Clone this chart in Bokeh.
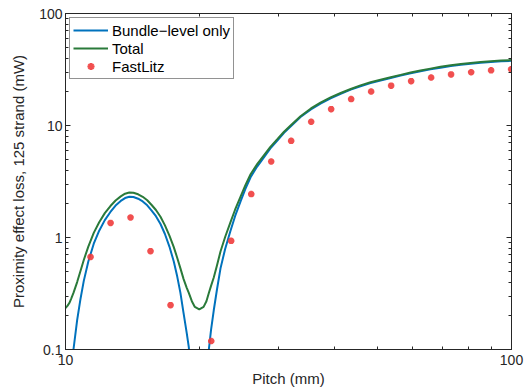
from bokeh.plotting import figure
from bokeh.models import (Range1d, FixedTicker, LogAxis, CustomJSTickFormatter,
                          Legend, LegendItem)
from bokeh.embed import file_html
from bokeh.resources import INLINE

# ---- data ----
pitch_bundle = [10.0, 10.1, 10.2, 10.3, 10.42, 10.62, 10.8, 10.99, 11.25, 11.57,
                11.9, 12.25, 12.61, 12.95, 13.3, 13.6, 13.9, 14.2, 14.55, 14.9,
                15.25, 15.6, 15.95, 16.33, 16.7, 17.1, 17.49, 17.8, 18.1, 18.4,
                18.7, 18.9, 19.2, 19.5, 19.95, 20.4, 20.7, 20.96, 21.2, 21.5,
                21.85, 22.26, 22.8, 23.44, 24.0, 24.69, 25.3, 26.0, 26.9, 27.85,
                28.8, 29.85, 30.9, 31.96, 33.65, 35.5, 37.3, 39.3, 41.4, 43.6,
                45.85, 48.3, 50.85, 53.6, 56.4, 59.4, 62.5, 65.8, 69.3, 73.1,
                77.0, 81.0, 85.3, 89.9, 94.8, 100.0]
loss_bundle = [0.007, 0.02, 0.038, 0.062, 0.10, 0.183, 0.28, 0.41, 0.61, 0.88,
               1.15, 1.43, 1.69, 1.93, 2.12, 2.25, 2.31, 2.30, 2.22, 2.10,
               1.94, 1.74, 1.55, 1.32, 1.08, 0.83, 0.61, 0.45, 0.32, 0.21,
               0.14, 0.105, 0.05, 0.015, 0.001, 0.015, 0.045, 0.10, 0.15, 0.224,
               0.34, 0.53, 0.79, 1.15, 1.55, 2.1, 2.7, 3.45, 4.3, 5.2,
               6.25, 7.35, 8.6, 9.8, 11.9, 13.9, 15.7, 17.5, 19.2, 20.9,
               22.4, 23.9, 25.2, 26.6, 27.9, 29.2, 30.5, 31.7, 32.8, 33.9,
               34.8, 35.6, 36.3, 36.9, 37.4, 37.8]

pitch_total = [10.0, 10.1, 10.2, 10.3, 10.42, 10.62, 10.8, 10.99, 11.25, 11.57,
               11.9, 12.25, 12.61, 12.95, 13.3, 13.6, 13.9, 14.2, 14.55, 14.9,
               15.25, 15.6, 15.95, 16.33, 16.7, 17.1, 17.49, 17.8, 18.1, 18.4,
               18.7, 18.9, 19.2, 19.5, 19.95, 20.4, 20.7, 20.96, 21.2, 21.5,
               21.85, 22.26, 22.8, 23.44, 24.0, 24.69, 25.3, 26.0, 26.9, 27.85,
               28.8, 29.85, 30.9, 31.96, 33.65, 35.5, 37.3, 39.3, 41.4, 43.6,
               45.85, 48.3, 50.85, 53.6, 56.4, 59.4, 62.5, 65.8, 69.3, 73.1,
               77.0, 81.0, 85.3, 89.9, 94.8, 100.0]
loss_total = [0.235, 0.245, 0.26, 0.285, 0.32, 0.40, 0.50, 0.63, 0.83, 1.10,
              1.37, 1.65, 1.91, 2.14, 2.33, 2.46, 2.52, 2.51, 2.43, 2.31,
              2.15, 1.95, 1.76, 1.53, 1.29, 1.04, 0.82, 0.66, 0.53, 0.425,
              0.355, 0.32, 0.27, 0.24, 0.228, 0.24, 0.27, 0.32, 0.37, 0.44,
              0.56, 0.75, 1.01, 1.37, 1.77, 2.32, 2.92, 3.67, 4.52, 5.42,
              6.45, 7.55, 8.8, 10.0, 12.1, 14.2, 16.0, 17.8, 19.5, 21.2,
              22.8, 24.3, 25.6, 27.0, 28.3, 29.7, 31.0, 32.2, 33.4, 34.5,
              35.4, 36.2, 36.9, 37.5, 38.0, 38.4]

pitch_fastlitz = [11.38, 12.62, 13.99, 15.51, 17.20, 21.22, 23.52, 26.09, 28.92,
                  32.06, 35.55, 39.41, 43.70, 48.45, 53.72, 59.56, 66.04, 73.2,
                  81.2, 90.0, 99.8]
loss_fastlitz = [0.671, 1.35, 1.51, 0.755, 0.249, 0.119, 0.933, 2.44, 4.77,
                 7.29, 10.8, 14.0, 17.2, 20.1, 22.7, 24.9, 26.8, 28.6,
                 29.9, 31.1, 31.8]

series_names = ["Bundle\u2212level only", "Total", "FastLitz"]
x_major = [10, 100]
y_major = [0.1, 1, 10, 100]
x_label = "Pitch (mm)"
y_label = "Proximity effect loss, 125 strand (mW)"

# ---- styling ----
FONT = "Liberation Sans"
AX = "#262626"
BLUE = "#0072bd"
GREEN = "#2a7a3a"
RED = "#f03c3c"

x_minor = [m * d for d in (10,) for m in range(2, 10)]
y_minor = [m * d for d in (0.1, 1, 10) for m in range(2, 10)]

p = figure(frame_width=446, frame_height=336,
           x_axis_type="log", y_axis_type="log",
           x_range=Range1d(10, 100), y_range=Range1d(0.1, 100),
           output_backend="svg", toolbar_location=None,
           min_border_left=65, min_border_right=18,
           min_border_top=13, min_border_bottom=41)
p.background_fill_color = "white"
p.border_fill_color = "white"
p.outline_line_color = AX
p.outline_line_width = 1
p.xgrid.visible = False
p.ygrid.visible = False

fmt = CustomJSTickFormatter(code="return tick < 1 ? tick.toFixed(1) : tick.toFixed(0);")

def style_axis(ax, ticks, minor, labels=True):
    ax.ticker = FixedTicker(ticks=ticks, minor_ticks=minor)
    ax.formatter = fmt
    ax.axis_line_color = AX
    ax.major_tick_line_color = AX
    ax.minor_tick_line_color = AX
    ax.major_tick_in = 5
    ax.major_tick_out = 0
    ax.minor_tick_in = 3
    ax.minor_tick_out = 0
    ax.major_label_text_font = FONT
    ax.axis_label_text_font = FONT
    ax.axis_label_text_font_size = "15px"
    ax.axis_label_text_font_style = "normal"
    ax.axis_label_text_color = AX
    if labels:
        ax.major_label_text_font_size = "14px"
        ax.major_label_text_color = AX
    else:
        ax.major_label_text_font_size = "1px"
        ax.major_label_text_color = None
        ax.major_label_standoff = 0

xa = p.xaxis[0]
ya = p.yaxis[0]
style_axis(xa, x_major, x_minor)
style_axis(ya, y_major, y_minor)
xa.axis_label = x_label
ya.axis_label = y_label
xa.major_label_standoff = 5
ya.major_label_standoff = 3
xa.axis_label_standoff = 2
ya.axis_label_standoff = 9

top = LogAxis()
style_axis(top, x_major, x_minor, labels=False)
p.add_layout(top, "above")
right = LogAxis()
style_axis(right, y_major, y_minor, labels=False)
p.add_layout(right, "right")

r1 = p.line(pitch_bundle, loss_bundle, line_color=BLUE, line_width=2)
r2 = p.line(pitch_total, loss_total, line_color=GREEN, line_width=2)
r3 = p.scatter(pitch_fastlitz, loss_fastlitz, marker="asterisk", size=6.5,
               line_color=RED, line_width=2.2, line_alpha=0.9)

legend = Legend(items=[LegendItem(label=series_names[0], renderers=[r1]),
                       LegendItem(label=series_names[1], renderers=[r2]),
                       LegendItem(label=series_names[2], renderers=[r3])],
                location="top_left")
legend.margin = 4
legend.padding = 3
legend.spacing = 0
legend.glyph_width = 35
legend.glyph_height = 18
legend.label_height = 18
legend.label_standoff = 4
legend.label_text_font = FONT
legend.label_text_font_size = "15px"
legend.label_text_color = "black"
legend.border_line_color = AX
legend.border_line_width = 1
legend.background_fill_color = "white"
legend.background_fill_alpha = 1
p.add_layout(legend)

open("out.html", "w").write(file_html(p, INLINE))
